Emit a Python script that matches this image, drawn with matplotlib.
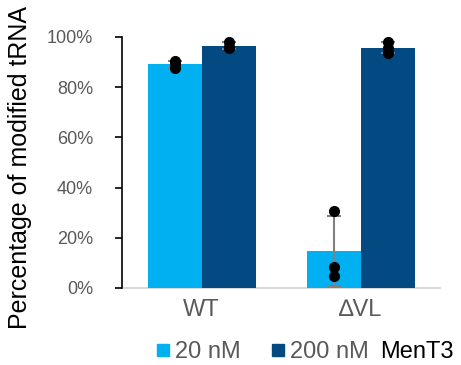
import numpy as np
import matplotlib
matplotlib.use("Agg")
import matplotlib.pyplot as plt
from matplotlib.lines import Line2D

plt.rcParams["font.family"] = ["Liberation Sans", "DejaVu Sans"]

strains = ["WT", "\u2206VL"]
conc_labels = ["20 nM", "200 nM"]
colors = ["#00B0F0", "#034A82"]

# replicate measurements, percent modified
reps_20 = [[90.5, 89.0, 87.5], [30.7, 8.4, 4.8]]
reps_200 = [[98.0, 96.0, 95.5], [98.0, 95.6, 93.6]]


def main() -> None:
    fig = plt.figure(figsize=(4.61, 3.65), dpi=100)
    ax = fig.add_axes([0.265, 0.211, 0.690, 0.688])

    x = np.arange(len(strains))
    w = 0.34

    for off, reps, col in [(-w / 2, reps_20, colors[0]), (w / 2, reps_200, colors[1])]:
        means = [np.mean(r) for r in reps]
        sds = [np.std(r, ddof=1) for r in reps]
        ax.bar(x + off, means, w, color=col, zorder=1)
        ax.errorbar(x + off, means, yerr=sds, fmt="none", ecolor="#808080",
                    elinewidth=1.5, capsize=5, capthick=1.5, zorder=2)
        for i, r in enumerate(reps):
            ax.plot([x[i] + off] * len(r), r, "o", color="black", ms=7, zorder=3)

    ax.set_xlim(-0.5, 1.5)
    ax.set_ylim(0, 100)
    ax.set_yticks(range(0, 101, 20))
    ax.set_yticklabels([f"{v}%" for v in range(0, 101, 20)])
    ax.set_xticks(x)
    ax.set_xticklabels(strains)

    for s in ["top", "right"]:
        ax.spines[s].set_visible(False)
    ax.spines["left"].set_color("black")
    ax.spines["left"].set_linewidth(1.2)
    ax.spines["bottom"].set_color("#D9D9D9")
    ax.spines["bottom"].set_linewidth(1.5)
    ax.spines["bottom"].set_zorder(0)

    ax.tick_params(axis="y", labelsize=13, labelcolor="#595959", color="black",
                   width=1.2, length=5, pad=16)
    ax.tick_params(axis="x", labelsize=17, labelcolor="#595959", length=0, pad=8)

    ax.set_ylabel("Percentage of modified tRNA", fontsize=18)
    ax.yaxis.set_label_coords(-0.285, 0.48)

    handles = [Line2D([], [], marker="s", ls="none", color=c, ms=8) for c in colors]
    fig.legend(handles, conc_labels, loc="center left", bbox_to_anchor=(0.338, 0.035),
               ncol=2, frameon=False, fontsize=17, labelcolor="#595959",
               handletextpad=0.2, columnspacing=1.3, handlelength=0.6,
               borderaxespad=0, borderpad=0)
    fig.text(0.824, 0.035, "MenT3", fontsize=17, va="center")

    fig.savefig("out.png", dpi=100)


if __name__ == "__main__":
    main()
